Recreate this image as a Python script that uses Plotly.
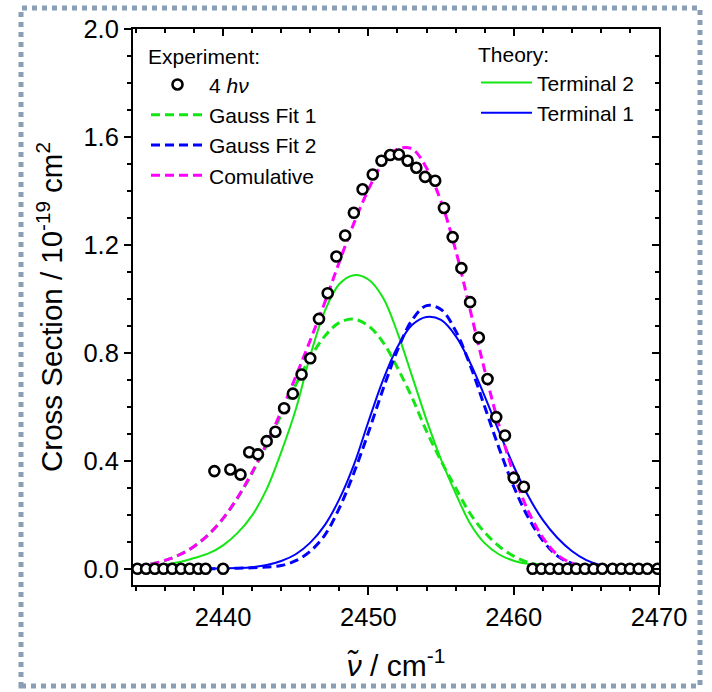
import plotly.graph_objects as go

# ---------------- data ----------------
exp_x = [2434.1, 2434.7, 2435.3, 2435.9, 2436.5, 2437.1, 2437.7, 2438.3, 2438.8,
         2439.4, 2440.0, 2440.5, 2441.2, 2441.8, 2442.4, 2443.0, 2443.6, 2444.2, 2444.8,
         2445.4, 2446.0, 2446.6, 2447.2, 2447.8, 2448.4, 2449.0, 2449.6, 2450.3, 2450.9,
         2451.5, 2452.1, 2452.7, 2453.3, 2453.9, 2454.6, 2455.2, 2455.8, 2456.4, 2457.0,
         2457.6, 2458.2, 2458.8, 2459.4, 2460.0, 2460.7,
         2461.3, 2461.9, 2462.5, 2463.1, 2463.7, 2464.3, 2464.9, 2465.5, 2466.1, 2466.8,
         2467.4, 2468.0, 2468.6, 2469.2, 2469.9]
exp_y = [0.0, 0.0, 0.0, 0.0, 0.0, 0.0, 0.0, 0.0, 0.0,
         0.362, 0.0, 0.368, 0.349, 0.432, 0.424, 0.473, 0.508, 0.595, 0.649,
         0.720, 0.780, 0.926, 1.021, 1.157, 1.235, 1.319, 1.406, 1.461, 1.512,
         1.533, 1.535, 1.512, 1.486, 1.452, 1.438, 1.337, 1.229, 1.114, 0.988,
         0.857, 0.703, 0.562, 0.494, 0.337, 0.304,
         0.0, 0.0, 0.0, 0.0, 0.0, 0.0, 0.0, 0.0, 0.0, 0.0,
         0.0, 0.0, 0.0, 0.0, 0.0]

fit_x = [2435, 2436, 2437, 2438, 2439, 2440, 2441, 2442, 2443, 2444,
         2445, 2446, 2447, 2448, 2449, 2450, 2451, 2452, 2453, 2454,
         2455, 2456, 2457, 2458, 2459, 2460, 2461, 2462, 2463, 2464, 2465]
gauss1_y = [0.017, 0.031, 0.052, 0.083, 0.127, 0.186, 0.262, 0.354, 0.458, 0.571,
            0.682, 0.782, 0.862, 0.912, 0.925, 0.900, 0.840, 0.745, 0.635, 0.510,
            0.400, 0.300, 0.205, 0.135, 0.083, 0.047, 0.024, 0.011, 0.004, 0.001, 0.000]
gauss2_y = [0.000, 0.000, 0.000, 0.000, 0.000, 0.001, 0.002, 0.004, 0.007, 0.012,
            0.030, 0.065, 0.125, 0.225, 0.355, 0.505, 0.664, 0.810, 0.921, 0.975,
            0.961, 0.882, 0.755, 0.601, 0.446, 0.305, 0.190, 0.105, 0.048, 0.020, 0.007]
cumul_y = [0.017, 0.031, 0.052, 0.083, 0.127, 0.187, 0.264, 0.358, 0.465, 0.583,
           0.712, 0.847, 0.987, 1.137, 1.280, 1.405, 1.504, 1.555, 1.556, 1.485,
           1.361, 1.182, 0.960, 0.736, 0.529, 0.352, 0.214, 0.116, 0.052, 0.021, 0.007]

theory_x = [2436, 2437, 2438, 2439, 2440, 2441, 2442, 2443, 2444, 2445,
            2446, 2447, 2448, 2449, 2450, 2451, 2452, 2453, 2454, 2455,
            2456, 2457, 2458, 2459, 2460, 2461, 2462, 2463, 2464, 2465, 2466, 2467]
terminal2_y = [0.015, 0.025, 0.040, 0.057, 0.087, 0.133, 0.198, 0.295, 0.432, 0.590,
               0.790, 0.955, 1.055, 1.088, 1.072, 1.005, 0.875, 0.715, 0.552, 0.405,
               0.280, 0.168, 0.095, 0.053, 0.030, 0.018, 0.010, 0.005, 0.002, 0.001, 0.0, 0.0]
terminal1_y = [0.0, 0.0, 0.0, 0.001, 0.002, 0.003, 0.006, 0.014, 0.029, 0.054,
               0.097, 0.162, 0.258, 0.385, 0.545, 0.698, 0.822, 0.903, 0.933, 0.922,
               0.863, 0.764, 0.640, 0.507, 0.380, 0.270, 0.181, 0.115, 0.066, 0.032, 0.013, 0.004]

x_range = [2433.8, 2470]
y_range = [-0.06, 2.0]

# ---------------- styling ----------------
FONT = "Liberation Sans, Arial, sans-serif"
GREEN = "#14e614"
BLUE = "#0000ff"
MAGENTA = "#ff00ff"
DASH = "9px,5px"

W, H = 712, 692
ML, MR, MT, MB = 133, 53, 29, 107
PW, PH = W - ML - MR, H - MT - MB


def paper_x(px):
    return (px - ML) / PW


def paper_y(py):
    return (H - MB - py) / PH


fig = go.Figure()

fig.add_trace(go.Scatter(x=theory_x, y=terminal2_y, mode="lines", name="Terminal 2",
                         line=dict(color=GREEN, width=2, shape="spline"),
                         legend="legend2", legendrank=1))
fig.add_trace(go.Scatter(x=theory_x, y=terminal1_y, mode="lines", name="Terminal 1",
                         line=dict(color=BLUE, width=2, shape="spline"),
                         legend="legend2", legendrank=2))
fig.add_trace(go.Scatter(x=fit_x, y=gauss1_y, mode="lines", name="Gauss Fit 1",
                         line=dict(color=GREEN, width=3, dash=DASH, shape="spline"),
                         legend="legend", legendrank=2))
fig.add_trace(go.Scatter(x=fit_x, y=gauss2_y, mode="lines", name="Gauss Fit 2",
                         line=dict(color=BLUE, width=3, dash=DASH, shape="spline"),
                         legend="legend", legendrank=3))
fig.add_trace(go.Scatter(x=fit_x, y=cumul_y, mode="lines", name="Comulative",
                         line=dict(color=MAGENTA, width=3, dash=DASH, shape="spline"),
                         legend="legend", legendrank=4))
fig.add_trace(go.Scatter(x=exp_x, y=exp_y, mode="markers", name="4 <i>hν</i>",
                         marker=dict(symbol="circle", size=10, color="white",
                                     line=dict(color="black", width=2.6)),
                         legend="legend", legendrank=1))
# empty trace to activate the mirrored top/right axes
fig.add_trace(go.Scatter(x=[None], y=[None], xaxis="x2", yaxis="y2", showlegend=False,
                         hoverinfo="skip", mode="lines"))

axis_common = dict(showline=True, linecolor="black", linewidth=2, showgrid=False,
                   zeroline=False, tickcolor="black", tickwidth=2)

fig.update_layout(
    width=W, height=H,
    margin=dict(l=ML, r=MR, t=MT, b=MB, autoexpand=False),
    paper_bgcolor="white", plot_bgcolor="white",
    font=dict(family=FONT, color="black"),
    xaxis=dict(range=x_range, ticks="outside", ticklen=8, dtick=10, tick0=2440,
               tickfont=dict(size=25.5),
               minor=dict(dtick=2, tick0=2434, ticks="outside", ticklen=4,
                          tickcolor="black", tickwidth=2),
               title=dict(text="<i>ν̃</i> / cm<sup>-1</sup>", font=dict(size=30), standoff=25),
               **axis_common),
    yaxis=dict(range=y_range, ticks="outside", ticklen=7, dtick=0.4, tick0=0,
               tickformat=".1f", tickfont=dict(size=25.5),
               minor=dict(dtick=0.1, tick0=0, ticks="outside", ticklen=4,
                          tickcolor="black", tickwidth=2),
               title=dict(text="Cross Section / 10<sup>-19</sup> cm<sup>2</sup>",
                          font=dict(size=29.5), standoff=12),
               **axis_common),
    xaxis2=dict(range=x_range, overlaying="x", side="top", anchor="y",
                ticks="inside", ticklen=7, dtick=10, tick0=2440, showticklabels=False,
                minor=dict(dtick=2, tick0=2434, ticks="inside", ticklen=4,
                           tickcolor="black", tickwidth=2),
                **axis_common),
    yaxis2=dict(range=y_range, overlaying="y", side="right", anchor="x",
                ticks="inside", ticklen=7, dtick=0.4, tick0=0, showticklabels=False,
                minor=dict(dtick=0.1, tick0=0, ticks="inside", ticklen=4,
                           tickcolor="black", tickwidth=2),
                **axis_common),
    legend=dict(title=dict(text="Experiment:", font=dict(size=21)),
                font=dict(size=21), x=paper_x(146), y=paper_y(37),
                xanchor="left", yanchor="top", bgcolor="rgba(0,0,0,0)",
                itemwidth=53, traceorder="normal", tracegroupgap=0),
    legend2=dict(title=dict(text="Theory:", font=dict(size=21)),
                 font=dict(size=21), x=paper_x(476), y=paper_y(35),
                 xanchor="left", yanchor="top", bgcolor="rgba(0,0,0,0)",
                 itemwidth=51, traceorder="normal", tracegroupgap=0),
    showlegend=True,
)

# dotted frame around the whole picture
fig.add_shape(type="rect", xref="paper", yref="paper",
              x0=paper_x(21), x1=paper_x(700), y0=paper_y(686), y1=paper_y(8),
              line=dict(color="#8a9fb5", width=5, dash="5px,5px"), layer="below")

fig.write_html("out.html")
